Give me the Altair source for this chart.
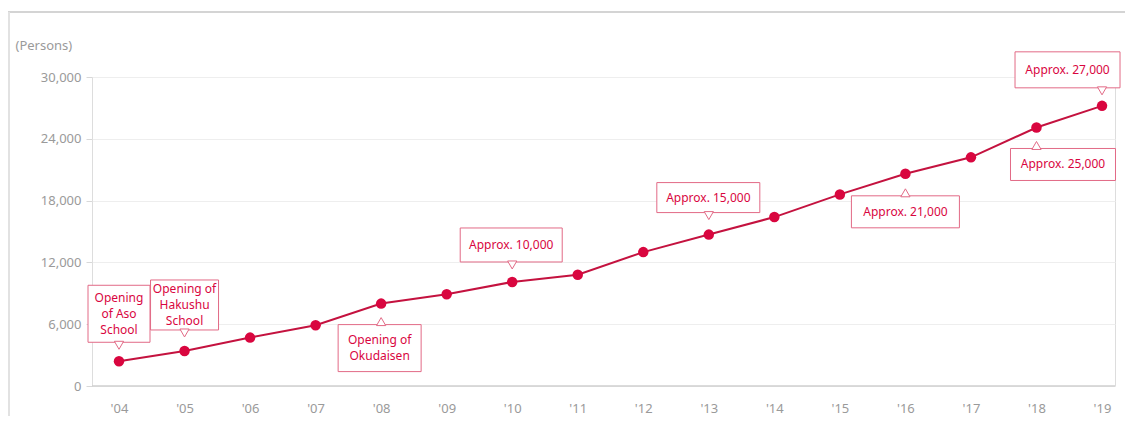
import json
import altair as alt
import pandas as pd

# ---- data ----
years = list(range(2004, 2020))
tick_labels = ["'04", "'05", "'06", "'07", "'08", "'09", "'10", "'11",
               "'12", "'13", "'14", "'15", "'16", "'17", "'18", "'19"]
visitors = [2400, 3400, 4700, 5900, 8000, 8900, 10100, 10800,
            13000, 14700, 16400, 18600, 20600, 22200, 25100, 27200]
y_ticks = [0, 6000, 12000, 18000, 24000, 30000]

ann_years = [2004, 2005, 2008, 2010, 2013, 2016, 2018, 2019]
ann_texts = [["Opening", "of Aso", "School"],
             ["Opening of", "Hakushu", "School"],
             ["Opening of", "Okudaisen"],
             ["Approx. 10,000"], ["Approx. 15,000"], ["Approx. 21,000"],
             ["Approx. 25,000"], ["Approx. 27,000"]]

# ---- layout (pixels) ----
W, H = 1023, 309
X_DOMAIN = [2003.588, 2019.198]
Y_DOMAIN = [0, 30000]
LINE_H = 16
FONT = "Noto Sans"
ppx = W / (X_DOMAIN[1] - X_DOMAIN[0])
ppy = H / (Y_DOMAIN[1] - Y_DOMAIN[0])
# box extents relative to its point: (left, right, top, bottom) in px
ann_boxes = [(-31, 31, -76, -19), (-34, 34, -71, -21), (-43, 40, 21, 68),
             (-52, 50, -54, -20), (-52, 51, -52, -22), (-54, 54, 22, 54),
             (-26, 79, 21, 53), (-87, 18, -54, -18)]

RED = "#d9063f"
LINE = "#c4123f"
BOX = "#e26a86"

df = pd.DataFrame({"year": years, "visitors": visitors})

rows = []
for yr, txt, (l, r, t, b) in zip(ann_years, ann_texts, ann_boxes):
    v = visitors[years.index(yr)]
    above = b < 0
    tail_dy = b + 3 if above else t - 3
    text_dy = (t + b) / 2 - (len(txt) - 1) * LINE_H / 2
    rows.append({
        "x1": yr + l / ppx, "x2": yr + r / ppx,
        "y1": v - t / ppy, "y2": v - b / ppy,
        "xc": yr + (l + r) / 2 / ppx, "yc": v - text_dy / ppy,
        "tx": yr, "ty": v - tail_dy / ppy,
        "shape": "triangle-down" if above else "triangle-up",
        "text": txt,
    })
ann = pd.DataFrame(rows)

label_expr = json.dumps(tick_labels) + "[round(datum.value) - 2004]"

x_scale = alt.Scale(domain=X_DOMAIN, nice=False, zero=False)
y_scale = alt.Scale(domain=Y_DOMAIN, nice=False)

base = alt.Chart(df)

line = base.mark_line(color=LINE, strokeWidth=2).encode(
    x=alt.X("year:Q", scale=x_scale,
            axis=alt.Axis(values=years, labelExpr=label_expr, title=None,
                          grid=False, domain=False, ticks=False,
                          labelColor="#9a9a9a", labelFontSize=13,
                          labelPadding=16, labelFont=FONT)),
    y=alt.Y("visitors:Q", scale=y_scale,
            axis=alt.Axis(values=y_ticks, format=",.0f", title="(Persons)",
                          titleAngle=0, titleAlign="left", titleBaseline="middle",
                          titleX=-77, titleY=-32, titleColor="#9a9a9a",
                          titleFontSize=13, titleFontWeight="normal",
                          titleFont=FONT,
                          labelColor="#9a9a9a", labelFontSize=13,
                          labelFont=FONT, labelPadding=5,
                          domain=False, tickColor="#d8d8d8", tickSize=6,
                          gridColor="#eeeeee")),
)
points = base.mark_circle(color=RED, size=110, opacity=1).encode(
    x=alt.X("year:Q", scale=x_scale),
    y=alt.Y("visitors:Q", scale=y_scale),
)
zero_rule = alt.Chart(pd.DataFrame({"v": [0]})).mark_rule(
    color="#cfcfcf", strokeWidth=1.5).encode(
    y=alt.Y("v:Q", scale=y_scale),
    x=alt.value(0), x2=alt.value(W))

frame_top = alt.Chart(pd.DataFrame({"v": [0]})).mark_rule(
    color="#d4d4d4", strokeWidth=2).encode(
    x=alt.value(-84), x2=alt.value(W + 20), y=alt.value(-65))
frame_left = alt.Chart(pd.DataFrame({"v": [0]})).mark_rule(
    color="#e2e2e2", strokeWidth=2).encode(
    x=alt.value(-83), y=alt.value(-65), y2=alt.value(H + 40))

ab = alt.Chart(ann)
boxes = ab.mark_rect(fill="white", stroke=BOX, strokeWidth=1).encode(
    x=alt.X("x1:Q", scale=x_scale), x2="x2:Q",
    y=alt.Y("y1:Q", scale=y_scale), y2="y2:Q")
tails = ab.mark_point(filled=True, fill="white", stroke=BOX, strokeWidth=1,
                      size=85, opacity=1).encode(
    x=alt.X("tx:Q", scale=x_scale), y=alt.Y("ty:Q", scale=y_scale),
    shape=alt.Shape("shape:N", scale=None, legend=None))
texts = ab.mark_text(color=RED, fontSize=12, font=FONT,
                     lineHeight=LINE_H, align="center", baseline="middle").encode(
    x=alt.X("xc:Q", scale=x_scale), y=alt.Y("yc:Q", scale=y_scale),
    text="text")

chart = alt.layer(frame_top, frame_left, zero_rule, line, points,
                  boxes, tails, texts).properties(
    width=W, height=H,
    autosize=alt.AutoSizeParams(type="none"),
    padding={"left": 84, "top": 69, "right": 10, "bottom": 30},
).configure_view(stroke=None).configure(background="white")

chart.save("out.html", embed_options={"renderer": "svg", "actions": False})
